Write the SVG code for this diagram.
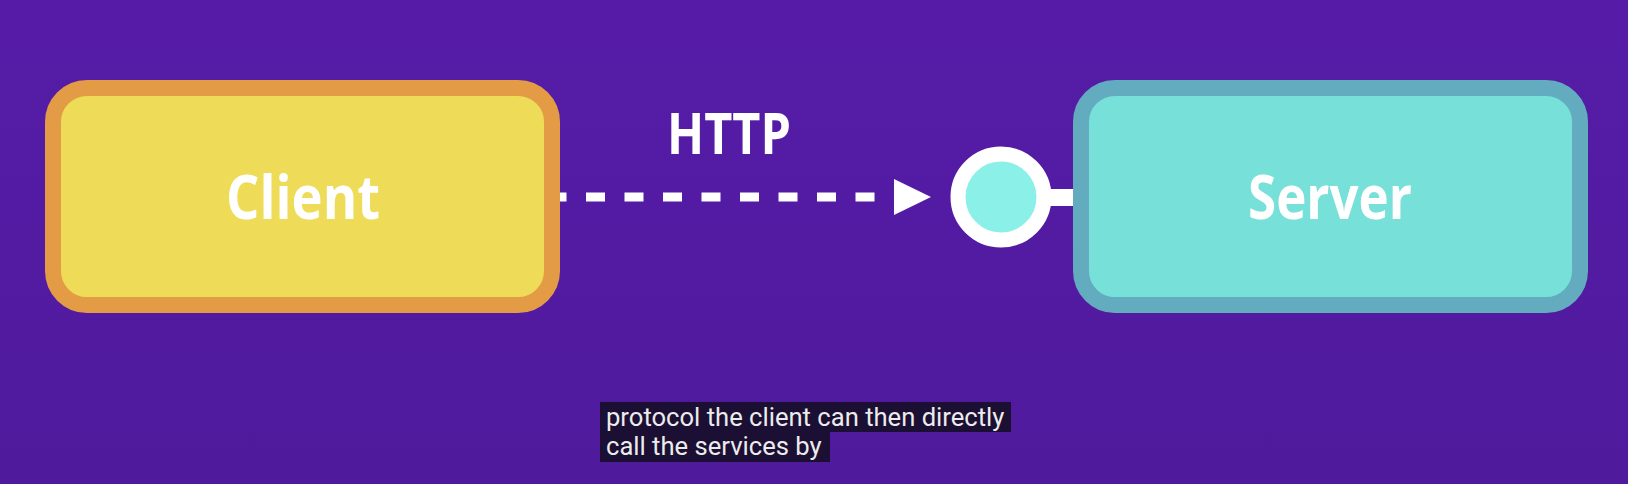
<svg xmlns="http://www.w3.org/2000/svg" width="1628" height="484" viewBox="0 0 1628 484">
  <defs>
    <linearGradient id="bg" x1="0" y1="0" x2="0" y2="1">
      <stop offset="0" stop-color="#561ca8"/>
      <stop offset="1" stop-color="#4f1a9c"/>
    </linearGradient>
    <style>
      .label { font-family: "Open Sans", "Noto Sans", "DejaVu Sans", sans-serif; font-weight: 700; fill: #ffffff; text-anchor: middle; }
      .cap { font-family: Roboto, "Liberation Sans", sans-serif; font-size: 25.6px; fill: #ececec; }
    </style>
  </defs>
  <rect width="1628" height="484" fill="url(#bg)"/>

  <g id="connectors">
    <line x1="560" y1="197" x2="875" y2="197" stroke="#ffffff" stroke-width="9" stroke-dasharray="19 19.5" stroke-dashoffset="12.5"/>
    <polygon points="894,179 931,197 894,215" fill="#ffffff"/>
    <rect x="1048" y="189" width="28" height="17" fill="#ffffff"/>
    <text class="label" x="729" y="154" font-size="57" textLength="124" lengthAdjust="spacingAndGlyphs">HTTP</text>
  </g>

  <g id="client">
    <rect x="53" y="88" width="499" height="217" rx="34" ry="34" fill="#eedb57" stroke="#e39c45" stroke-width="16"/>
    <text class="label" x="303" y="219" font-size="60" textLength="154" lengthAdjust="spacingAndGlyphs">Client</text>
  </g>

  <g id="server">
    <rect x="1081" y="88" width="499" height="217" rx="34" ry="34" fill="#77e1d9" stroke="#63acbf" stroke-width="16"/>
    <text class="label" x="1330" y="219" font-size="60" textLength="164" lengthAdjust="spacingAndGlyphs">Server</text>
  </g>

  <g id="endpoint">
    <circle cx="1001" cy="197" r="43" fill="#8af0e8" stroke="#ffffff" stroke-width="15"/>
  </g>

  <g id="caption">
    <rect x="600" y="402" width="411" height="30" fill="#1b0f33"/>
    <rect x="600" y="432" width="230" height="30" fill="#1b0f33"/>
    <text class="cap" x="606" y="426">protocol the client can then directly</text>
    <text class="cap" x="606" y="455">call the services by</text>
  </g>
</svg>
